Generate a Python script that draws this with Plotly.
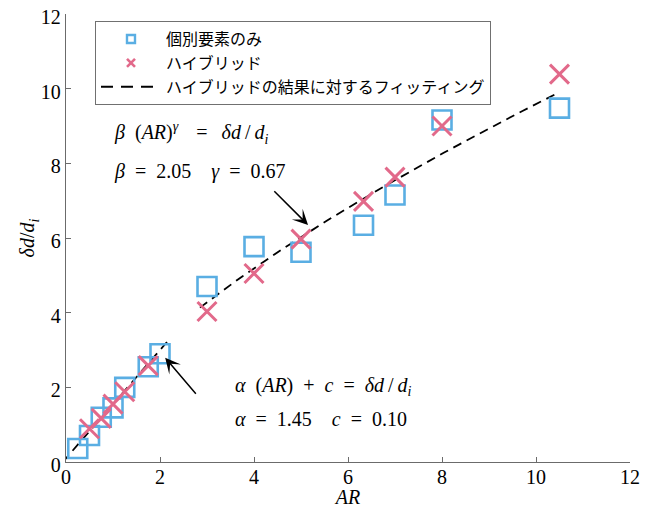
import numpy as np
import plotly.graph_objects as go

# ---- data ----
ar_individual = [0.25, 0.5, 0.75, 1.0, 1.25, 1.75, 2.0, 3.0, 4.0, 5.0, 6.33, 7.0, 8.0, 10.5]
dd_individual = [0.36, 0.71, 1.20, 1.45, 2.00, 2.55, 2.90, 4.70, 5.77, 5.62, 6.34, 7.15, 9.16, 9.48]

ar_hybrid = [0.5, 0.75, 1.0, 1.25, 1.75, 3.0, 4.0, 5.0, 6.33, 7.0, 8.0, 10.5]
dd_hybrid = [0.89, 1.17, 1.55, 1.88, 2.58, 4.03, 5.05, 5.97, 6.98, 7.63, 9.00, 10.39]

alpha, c_lin = 1.45, 0.10
beta, gamma = 2.05, 0.67
lin_range = [-0.07, 2.15]
pow_range = [2.85, 10.5]

names = ["個別要素のみ", "ハイブリッド", "ハイブリッドの結果に対するフィッティング"]
ticks = [0, 2, 4, 6, 8, 10, 12]

BLUE = "#5AAEE3"
PINK = "#E2698A"
GRAY = "#6b6b6b"
SERIF = "Liberation Serif, DejaVu Serif, serif"
CJK = "Noto Sans CJK JP, sans-serif"
SP = "\u2002"   # en space
TH = "\u2009"   # thin space

x_lin = np.array(lin_range)
y_lin = alpha * x_lin + c_lin
x_pow = np.linspace(pow_range[0], pow_range[1], 60)
y_pow = beta * x_pow ** gamma

fig = go.Figure()
dash = "9px,6px"
fig.add_trace(go.Scatter(x=x_lin, y=y_lin, mode="lines", showlegend=False,
                         line=dict(color="black", width=1.8, dash=dash)))
fig.add_trace(go.Scatter(x=x_pow, y=y_pow, mode="lines", showlegend=False,
                         line=dict(color="black", width=1.8, dash=dash)))
fig.add_trace(go.Scatter(x=ar_individual, y=dd_individual, mode="markers", showlegend=False,
                         marker=dict(symbol="square-open", size=19, color=BLUE,
                                     line=dict(width=2.6, color=BLUE))))
fig.add_trace(go.Scatter(x=ar_hybrid, y=dd_hybrid, mode="markers", showlegend=False,
                         marker=dict(symbol="x-thin-open", size=19, color=PINK,
                                     line=dict(width=3, color=PINK))))
# legend entries
fig.add_trace(go.Scatter(x=[None], y=[None], mode="markers", name=names[0],
                         marker=dict(symbol="square-open", size=8, color=BLUE,
                                     line=dict(width=2.4, color=BLUE))))
fig.add_trace(go.Scatter(x=[None], y=[None], mode="markers", name=names[1],
                         marker=dict(symbol="x-thin-open", size=8, color=PINK,
                                     line=dict(width=2.6, color=PINK))))
fig.add_trace(go.Scatter(x=[None], y=[None], mode="lines", name=names[2],
                         line=dict(color="black", width=2, dash="12px,8px")))

txt = dict(showarrow=False, xanchor="left", yanchor="middle",
           font=dict(family=SERIF, size=20, color="black"))
EQ = SP + "=" + SP
RATIO = f"<i>δd</i>{TH}/{TH}<i>d</i><sub><i>i</i></sub>"
fig.add_annotation(x=0.98, y=8.81,
                   text=f"<i>β</i>{SP}(<i>AR</i>)<sup><i>γ</i></sup>{TH}{TH}{EQ}{TH}{RATIO}", **txt)
fig.add_annotation(x=0.98, y=7.77,
                   text=f"<i>β</i>{EQ}{beta:.2f}{SP}{SP}<i>γ</i>{EQ}{gamma:.2f}", **txt)
fig.add_annotation(x=3.56, y=2.01,
                   text=f"<i>α</i>{SP}(<i>AR</i>){SP}+{SP}<i>c</i>{EQ}{RATIO}", **txt)
fig.add_annotation(x=3.56, y=1.15,
                   text=f"<i>α</i>{EQ}{alpha:.2f}{SP}{SP}<i>c</i>{EQ}{c_lin:.2f}", **txt)

arr = dict(text="", showarrow=True, arrowhead=3, arrowsize=1.7, arrowwidth=1.5,
           arrowcolor="black", axref="x", ayref="y", standoff=0)
fig.add_annotation(x=5.15, y=6.35, ax=4.40, ay=7.29, **arr)
fig.add_annotation(x=2.11, y=2.79, ax=2.79, ay=1.79, **arr)

axis_common = dict(range=[0, 12], tickvals=ticks, ticks="inside", ticklen=5, tickwidth=1,
                   tickcolor=GRAY, showline=True, linecolor=GRAY, linewidth=1.3,
                   showgrid=False, zeroline=False, automargin=False,
                   ticklabeloverflow="allow",
                   tickfont=dict(family=SERIF, size=20, color="black"))
fig.update_xaxes(**axis_common, ticklabelstandoff=-3,
                 title=dict(text="<i>AR</i>", standoff=0,
                            font=dict(family=SERIF, size=20, color="black")))
fig.update_yaxes(**axis_common, ticklabelshift=3,
                 title=dict(text="<i>δd</i>/<i>d</i><sub><i>i</i></sub>", standoff=0,
                            font=dict(family=SERIF, size=20, color="black")))

# the page body adds an 8px offset; the figure is sized so the plot lands at 66..630 x 14..462
fig.update_layout(
    width=649, height=500,
    margin=dict(l=58, r=27, t=6, b=46),
    plot_bgcolor="white", paper_bgcolor="white",
    legend=dict(x=0.0514, y=0.984, xanchor="left", yanchor="top",
                bordercolor="#707070", borderwidth=1, bgcolor="white",
                itemwidth=60, tracegroupgap=0,
                font=dict(family=CJK, size=16, color="black")),
)

fig.write_html("out.html")
